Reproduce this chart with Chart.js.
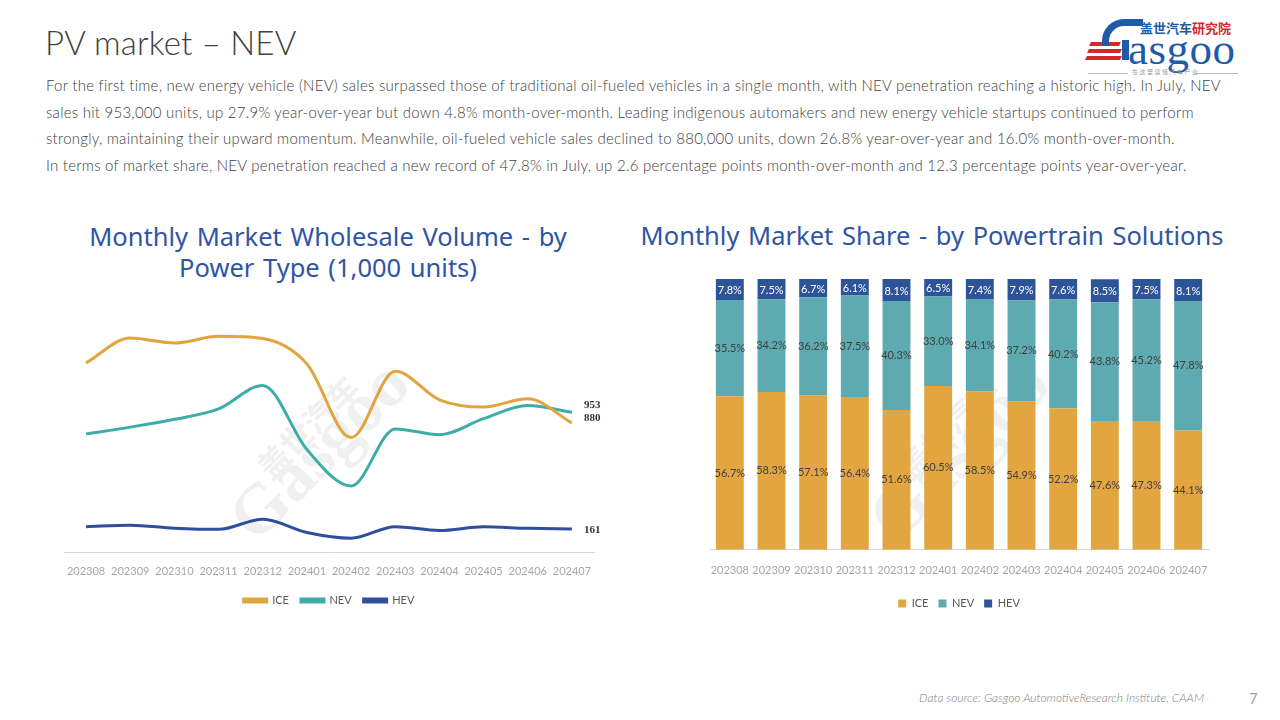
<!DOCTYPE html>
<html>
<head>
<meta charset="utf-8">
<script src="https://cdn.jsdelivr.net/npm/chart.js@4.4.1/dist/chart.umd.min.js"></script>
<style>
  html, body { margin:0; padding:0; background:#fff; }
  body { width:1280px; height:720px; position:relative; overflow:hidden; font-family: Lato, "Noto Sans", sans-serif; }
  .abs { position:absolute; }
  #title { left:45px; top:22px; font-size:33px; font-weight:300; color:#404040; letter-spacing:0.2px; }
  #para { left:46px; top:72px; font-size:15px; font-weight:300; color:#404040; line-height:26.6px; white-space:nowrap; letter-spacing:0.25px; }
  .ctitle { color:#2F55A4; font-size:25.5px; text-align:center; line-height:31px; font-family:"Noto Sans", Lato, sans-serif; }
  #t1 { left:40px; top:221px; width:576px; word-spacing:2px; }
  #t2 { left:630px; top:220px; width:604px; word-spacing:2px; }
  #c1 { left:40px; top:280px; width:580px; height:336px; }
  #c2 { left:680px; top:268px; width:560px; height:351px; }
  #src { right:76px; top:690px; font-size:12px; font-style:italic; font-weight:300; color:#808080; }
  #pg { left:1249px; top:689px; font-size:15px; color:#A0A0A0; }
  .wm { color:#F0F0F0; font-weight:bold; transform-origin:left top; white-space:nowrap; }
</style>
</head>
<body>
<!-- watermarks -->
<div class="abs wm" style="left:212px; top:500px; font-size:70px; transform:rotate(-45deg); font-family:'Liberation Serif';">Gasgoo</div>
<div class="abs wm" style="left:245px; top:455px; font-size:32px; transform:rotate(-45deg); font-family:'Noto Sans CJK SC';">盖世汽车</div>
<div class="abs wm" style="left:852px; top:500px; font-size:70px; transform:rotate(-45deg); font-family:'Liberation Serif';">Gasgoo</div>
<div class="abs wm" style="left:885px; top:455px; font-size:32px; transform:rotate(-45deg); font-family:'Noto Sans CJK SC';">盖世汽车</div>

<div id="title" class="abs">PV market – NEV</div>
<div id="para" class="abs">For the first time, new energy vehicle (NEV) sales surpassed those of traditional oil-fueled vehicles in a single month, with NEV penetration reaching a historic high. In July, NEV<br>sales hit 953,000 units, up 27.9% year-over-year but down 4.8% month-over-month. Leading indigenous automakers and new energy vehicle startups continued to perform<br>strongly, maintaining their upward momentum. Meanwhile, oil-fueled vehicle sales declined to 880,000 units, down 26.8% year-over-year and 16.0% month-over-month.<br>In terms of market share, NEV penetration reached a new record of 47.8% in July, up 2.6 percentage points month-over-month and 12.3 percentage points year-over-year.</div>

<!-- logo -->
<div class="abs" style="left:1086px; top:14px; width:152px; height:66px;">
  <div class="abs" style="left:4px; top:28px; width:30px; height:4px; background:#D7262C; transform:skewX(-25deg);"></div>
  <div class="abs" style="left:2px; top:35px; width:33px; height:4px; background:#D7262C; transform:skewX(-25deg);"></div>
  <div class="abs" style="left:0px; top:42px; width:35px; height:4px; background:#D7262C; transform:skewX(-25deg);"></div>
  <div class="abs" style="left:16px; top:5px; width:34px; height:20px; border-top:7px solid #1F5BA8; border-left:7px solid #1F5BA8; border-radius:22px 0 0 0;"></div>
  <div class="abs" style="left:36px; top:26px; width:7px; height:20px; background:#1F5BA8;"></div>
  <div class="abs" style="left:54px; top:4px; font-size:13px; font-weight:bold; color:#1F5BA8; font-family:'Noto Sans CJK SC';">盖世汽车<span style="color:#D7262C">研究院</span></div>
  <div class="abs" style="left:42px; top:9px; font-size:45px; color:#1F5BA8; font-family:'Liberation Serif', serif; letter-spacing:0.5px;">asgoo</div>
  <div class="abs" style="left:2px; top:59px; width:40px; height:1px; background:#BBB;"></div>
  <div class="abs" style="left:46px; top:53px; font-size:6px; color:#999; font-family:'Noto Sans CJK SC'; letter-spacing:1.5px;">在这里读懂汽车产业</div>
  <div class="abs" style="left:110px; top:59px; width:42px; height:1px; background:#BBB;"></div>
</div>

<div id="t1" class="abs ctitle">Monthly Market Wholesale Volume - by<br>Power Type (1,000 units)</div>
<div id="t2" class="abs ctitle">Monthly Market Share - by Powertrain Solutions</div>

<div id="c1" class="abs"><canvas id="lineChart"></canvas></div>
<div id="c2" class="abs"><canvas id="barChart"></canvas></div>

<div id="src" class="abs">Data source: Gasgoo AutomotiveResearch Institute, CAAM</div>
<div id="pg" class="abs">7</div>

<script>
// ---- data ----
const months = ['202308','202309','202310','202311','202312','202401','202402','202403','202404','202405','202406','202407'];
const iceVolume = [1287, 1456, 1422, 1467, 1452, 1280, 781, 1231, 1037, 988, 1044, 880];
const nevVolume = [806, 852, 905, 975, 1134, 700, 453, 840, 800, 909, 998, 953];
const hevVolume = [177, 187, 167, 159, 228, 138, 99, 177, 151, 176, 166, 161];
const iceShare = [56.7, 58.3, 57.1, 56.4, 51.6, 60.5, 58.5, 54.9, 52.2, 47.6, 47.3, 44.1];
const nevShare = [35.5, 34.2, 36.2, 37.5, 40.3, 33.0, 34.1, 37.2, 40.2, 43.8, 45.2, 47.8];
const hevShare = [7.8, 7.5, 6.7, 6.1, 8.1, 6.5, 7.4, 7.9, 7.6, 8.5, 7.5, 8.1];

const C_ICE_L = '#E0A53F', C_NEV_L = '#3DADA7', C_HEV_L = '#2F4E9B';
const C_ICE_B = '#E2A540', C_NEV_B = '#5DAAB1', C_HEV_B = '#2D5399';

Chart.defaults.font.family = 'Lato, "Noto Sans", sans-serif';
Chart.defaults.animation = false;

// end labels on the line chart
const endLabels = {
  id: 'endLabels',
  afterDatasetsDraw(chart) {
    const ctx = chart.ctx;
    ctx.save();
    ctx.font = 'bold 11px "Liberation Serif", serif';
    ctx.fillStyle = '#333';
    ctx.textBaseline = 'middle';
    ctx.textAlign = 'left';
    const dy = [-5, -7, 1];
    chart.data.datasets.forEach((ds, di) => {
      const meta = chart.getDatasetMeta(di);
      const last = meta.data.length - 1;
      const pt = meta.data[last];
      ctx.fillText(String(ds.data[last]), pt.x + 12, pt.y + dy[di]);
    });
    ctx.restore();
  }
};

new Chart(document.getElementById('lineChart'), {
  type: 'line',
  data: {
    labels: months,
    datasets: [
      { label: 'ICE', data: iceVolume, borderColor: C_ICE_L, backgroundColor: C_ICE_L },
      { label: 'NEV', data: nevVolume, borderColor: C_NEV_L, backgroundColor: C_NEV_L },
      { label: 'HEV', data: hevVolume, borderColor: C_HEV_L, backgroundColor: C_HEV_L }
    ]
  },
  options: {
    responsive: true, maintainAspectRatio: false,
    layout: { padding: { left: 24, right: 26, top: 22, bottom: 0 } },
    elements: { line: { borderWidth: 3, tension: 0.4, cubicInterpolationMode: 'monotone' }, point: { radius: 0 } },
    scales: {
      x: {
        offset: true,
        grid: { display: false },
        border: { display: true, color: '#D9D9D9', width: 1 },
        ticks: { color: '#A6A6A6', font: { size: 11 }, padding: 4, maxRotation: 0, autoSkip: false },
        afterFit(scale) { scale.height += 1; }
      },
      y: { display: false, min: 0, max: 1700 }
    },
    plugins: {
      legend: {
        position: 'bottom',
        labels: { boxWidth: 23, boxHeight: 3, color: '#595959', font: { size: 11 }, padding: 12 }
      },
      tooltip: { enabled: false }
    }
  },
  plugins: [endLabels]
});

// bar labels
const barLabels = {
  id: 'barLabels',
  afterDatasetsDraw(chart) {
    const ctx = chart.ctx;
    ctx.save();
    ctx.font = '11px Lato, "Noto Sans", sans-serif';
    ctx.textAlign = 'center';
    ctx.textBaseline = 'middle';
    const colors = ['#404040', '#404040', '#FFFFFF'];
    chart.data.datasets.forEach((ds, di) => {
      const meta = chart.getDatasetMeta(di);
      meta.data.forEach((bar, i) => {
        ctx.fillStyle = colors[di];
        ctx.fillText(ds.data[i].toFixed(1) + '%', bar.x, (bar.y + bar.base) / 2 + (di === 2 ? 1 : 0));
      });
    });
    ctx.restore();
  }
};

new Chart(document.getElementById('barChart'), {
  type: 'bar',
  data: {
    labels: months,
    datasets: [
      { label: 'ICE', data: iceShare, backgroundColor: C_ICE_B },
      { label: 'NEV', data: nevShare, backgroundColor: C_NEV_B },
      { label: 'HEV', data: hevShare, backgroundColor: C_HEV_B }
    ]
  },
  options: {
    responsive: true, maintainAspectRatio: false,
    layout: { padding: { left: 29, right: 31, top: 11, bottom: 0 } },
    datasets: { bar: { categoryPercentage: 1.0, barPercentage: 0.67 } },
    scales: {
      x: {
        stacked: true,
        grid: { display: false },
        border: { display: true, color: '#D9D9D9', width: 1 },
        ticks: { color: '#A6A6A6', font: { size: 11 }, padding: 6, maxRotation: 0, autoSkip: false },
        afterFit(scale) { scale.height += 5; }
      },
      y: { stacked: true, display: false, min: 0, max: 100 }
    },
    plugins: {
      legend: {
        position: 'bottom',
        labels: { boxWidth: 8, boxHeight: 8, color: '#595959', font: { size: 11 }, padding: 10 }
      },
      tooltip: { enabled: false }
    }
  },
  plugins: [barLabels]
});
</script>
</body>
</html>
